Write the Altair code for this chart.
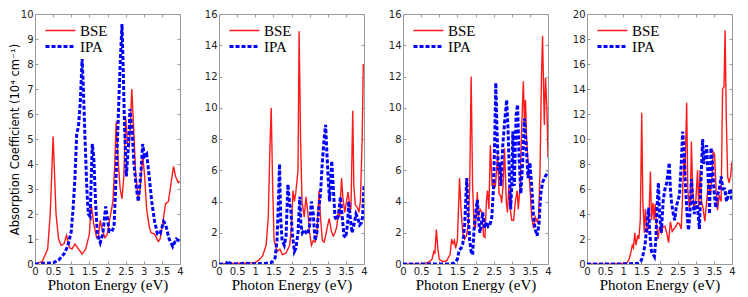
import altair as alt
import pandas as pd

# ---------------- data ----------------
x_ticks = [0, 0.5, 1, 1.5, 2, 2.5, 3, 3.5, 4]
series_names = ["BSE", "IPA"]

# Panel 1
p1_bse_x = [0, 0.2, 0.35, 0.42, 0.5, 0.58, 0.65, 0.72, 0.8, 0.87, 0.95, 1.02, 1.1, 1.2, 1.3, 1.4, 1.5, 1.55, 1.62, 1.7, 1.75, 1.8, 1.85, 1.93, 2.0, 2.05, 2.15, 2.2, 2.24, 2.3, 2.35, 2.4, 2.45, 2.5, 2.55, 2.6, 2.63, 2.67, 2.72, 2.78, 2.85, 2.9, 2.97, 3.02, 3.08, 3.15, 3.2, 3.3, 3.4, 3.45, 3.52, 3.6, 3.68, 3.75, 3.82, 3.88, 3.95, 4.0]
p1_bse_y = [0, 0.1, 0.6, 2.0, 5.1, 2.0, 1.0, 0.75, 0.8, 1.15, 0.65, 0.6, 0.8, 0.6, 0.4, 0.6, 1.2, 2.4, 1.6, 1.05, 1.1, 1.75, 1.4, 1.05, 1.2, 1.7, 2.5, 4.0, 5.7, 4.0, 3.0, 2.6, 3.5, 5.9, 4.8, 4.7, 5.5, 7.0, 5.5, 3.5, 2.65, 3.0, 4.35, 3.6, 2.2, 1.5, 1.25, 1.2, 0.9, 1.0, 1.6, 2.4, 2.5, 3.2, 3.9, 3.5, 3.25, 3.3]
p1_ipa_x = [0, 0.5, 0.65, 0.8, 0.9, 1.0, 1.05, 1.1, 1.15, 1.2, 1.25, 1.3, 1.33, 1.38, 1.43, 1.47, 1.52, 1.58, 1.62, 1.67, 1.72, 1.8, 1.87, 1.95, 2.0, 2.05, 2.12, 2.18, 2.25, 2.3, 2.35, 2.4, 2.43, 2.47, 2.52, 2.58, 2.62, 2.68, 2.73, 2.8, 2.85, 2.92, 2.97, 3.02, 3.08, 3.15, 3.22, 3.3, 3.38, 3.45, 3.55, 3.6, 3.7, 3.8, 3.9, 4.0]
p1_ipa_y = [0, 0.05, 0.15, 0.4, 0.7, 1.3, 2.2, 3.4, 5.2, 5.5, 6.5, 8.2, 7.2, 5.0, 3.0, 2.0, 1.9, 4.8, 4.3, 2.5, 1.2, 0.85, 1.2, 2.3, 1.8, 1.3, 1.3, 1.5, 4.0, 6.0, 8.0, 9.6, 8.0, 5.5, 3.5, 4.8, 6.2, 5.3, 4.0, 3.0, 2.5, 3.6, 4.8, 4.3, 4.4, 3.5, 2.5, 1.7, 1.2, 1.2, 1.7, 1.6, 1.0, 0.7, 1.0, 0.9]

# Panel 2
p2_bse_x = [0, 0.5, 0.8, 1.0, 1.1, 1.2, 1.3, 1.36, 1.4, 1.44, 1.48, 1.52, 1.6, 1.68, 1.75, 1.85, 1.95, 2.0, 2.04, 2.08, 2.12, 2.18, 2.21, 2.25, 2.29, 2.35, 2.4, 2.45, 2.5, 2.55, 2.6, 2.65, 2.7, 2.76, 2.8, 2.85, 2.9, 2.95, 3.0, 3.04, 3.1, 3.15, 3.2, 3.25, 3.3, 3.33, 3.38, 3.42, 3.47, 3.53, 3.56, 3.6, 3.64, 3.69, 3.72, 3.76, 3.82, 3.86, 3.9, 3.95, 3.98]
p2_bse_y = [0, 0.05, 0.05, 0.1, 0.25, 0.5, 1.2, 3.0, 7.0, 10.0, 5.0, 1.5, 0.8, 0.95, 0.6, 0.7, 1.2, 2.4, 4.7, 4.0, 4.6, 6.0, 14.9, 8.0, 4.0, 3.0, 4.3, 3.3, 2.0, 1.2, 1.5, 1.4, 1.8, 4.7, 3.0, 1.5, 1.4, 1.9, 2.5, 2.9, 2.1, 1.8, 2.0, 2.4, 3.5, 3.0, 5.5, 4.2, 3.3, 4.2, 4.6, 3.8, 3.5, 9.8, 5.0, 3.8, 3.6, 3.3, 4.0, 8.0, 12.8]
p2_ipa_x = [0, 0.2, 0.25, 0.3, 0.5, 0.7, 1.0, 1.3, 1.45, 1.55, 1.6, 1.64, 1.67, 1.7, 1.74, 1.8, 1.85, 1.9, 1.95, 1.98, 2.02, 2.08, 2.12, 2.18, 2.23, 2.26, 2.3, 2.35, 2.4, 2.45, 2.5, 2.55, 2.6, 2.65, 2.7, 2.75, 2.8, 2.85, 2.9, 2.94, 3.0, 3.05, 3.11, 3.15, 3.2, 3.25, 3.3, 3.35, 3.4, 3.45, 3.5, 3.55, 3.58, 3.62, 3.67, 3.72, 3.78, 3.82, 3.88, 3.92, 3.96, 4.0]
p2_ipa_y = [0, 0.0, 0.2, 0.05, 0.0, 0.05, 0.0, 0.05, 0.1, 0.4, 1.5, 4.0, 6.4, 3.0, 1.5, 1.2, 1.8, 5.1, 3.8, 3.6, 2.0, 0.8, 1.0, 2.0, 4.3, 2.5, 2.0, 2.2, 2.0, 1.9, 2.5, 4.0, 3.2, 1.5, 2.0, 3.5, 4.5, 6.5, 8.0, 8.9, 6.0, 4.0, 6.6, 5.0, 3.0, 2.8, 3.2, 4.3, 3.0, 1.8, 1.7, 2.7, 4.0, 3.0, 2.0, 2.5, 3.2, 3.0, 2.5, 2.6, 3.0, 5.0]

# Panel 3
p3_bse_x = [0, 0.5, 0.7, 0.8, 0.85, 0.88, 0.92, 0.96, 1.0, 1.1, 1.2, 1.3, 1.34, 1.38, 1.42, 1.45, 1.5, 1.53, 1.56, 1.6, 1.65, 1.7, 1.75, 1.8, 1.84, 1.88, 1.92, 1.96, 2.0, 2.05, 2.08, 2.13, 2.18, 2.22, 2.26, 2.3, 2.33, 2.37, 2.41, 2.46, 2.5, 2.55, 2.61, 2.65, 2.7, 2.72, 2.76, 2.8, 2.85, 2.88, 2.92, 2.96, 3.0, 3.05, 3.1, 3.15, 3.18, 3.23, 3.27, 3.32, 3.35, 3.38, 3.41, 3.45, 3.5, 3.55, 3.6, 3.65, 3.7, 3.74, 3.78, 3.82, 3.85, 3.88, 3.9, 3.93, 3.97, 4.0]
p3_bse_y = [0, 0.0, 0.1, 0.3, 0.8, 0.7, 2.2, 1.0, 0.3, 0.15, 0.2, 0.6, 1.6, 1.3, 1.5, 1.0, 1.5, 3.5, 5.5, 3.5, 2.0, 1.6, 1.8, 2.5, 5.0, 12.0, 5.0, 2.5, 2.3, 4.6, 3.0, 3.5, 3.3, 1.8, 1.7, 4.0, 4.7, 3.5, 7.6, 5.0, 5.2, 5.0, 7.0, 4.5, 4.3, 3.9, 5.0, 7.4, 4.0, 3.3, 4.9, 3.5, 2.8, 2.8, 4.0, 4.7, 3.5, 5.0, 8.5, 11.7, 9.0, 10.5, 8.0, 6.5, 5.0, 3.0, 2.3, 3.0, 2.7, 3.0, 6.0, 12.0, 14.6, 11.0, 8.9, 11.9, 10.0, 6.8]
p3_ipa_x = [0, 0.5, 1.0, 1.3, 1.4, 1.5, 1.55, 1.6, 1.65, 1.7, 1.73, 1.76, 1.8, 1.84, 1.88, 1.92, 1.96, 2.0, 2.05, 2.08, 2.12, 2.16, 2.2, 2.25, 2.3, 2.35, 2.4, 2.45, 2.5, 2.53, 2.56, 2.6, 2.63, 2.67, 2.7, 2.75, 2.8, 2.86, 2.9, 2.93, 2.97, 3.0, 3.03, 3.07, 3.12, 3.16, 3.2, 3.25, 3.3, 3.35, 3.4, 3.45, 3.5, 3.55, 3.6, 3.65, 3.7, 3.75, 3.8, 3.85, 3.9, 3.95, 4.0]
p3_ipa_y = [0, 0, 0, 0.0, 0.05, 0.3, 0.9, 1.0, 1.3, 2.5, 4.0, 5.5, 3.0, 1.5, 0.8, 0.6, 2.2, 3.2, 4.1, 3.0, 2.0, 2.5, 3.3, 2.3, 2.7, 2.4, 2.5, 3.0, 5.0, 8.0, 11.6, 8.0, 6.0, 6.5, 5.0, 7.5, 9.0, 10.5, 8.5, 6.0, 3.5, 5.0, 8.5, 5.0, 9.5, 10.2, 7.0, 4.5, 6.5, 9.3, 7.5, 5.5, 6.5, 5.0, 3.0, 2.2, 1.8, 2.5, 4.5, 5.2, 5.5, 5.7, 5.9]

# Panel 4
p4_bse_x = [0, 0.5, 1.0, 1.1, 1.15, 1.2, 1.25, 1.28, 1.32, 1.35, 1.4, 1.43, 1.47, 1.51, 1.54, 1.58, 1.61, 1.66, 1.7, 1.75, 1.78, 1.82, 1.85, 1.88, 1.92, 1.96, 2.0, 2.05, 2.1, 2.15, 2.2, 2.25, 2.3, 2.35, 2.4, 2.45, 2.5, 2.55, 2.6, 2.63, 2.67, 2.7, 2.75, 2.78, 2.82, 2.85, 2.88, 2.92, 2.95, 3.0, 3.05, 3.08, 3.12, 3.16, 3.2, 3.25, 3.3, 3.35, 3.4, 3.45, 3.48, 3.52, 3.56, 3.6, 3.65, 3.7, 3.74, 3.78, 3.81, 3.84, 3.88, 3.92, 3.96, 4.0]
p4_bse_y = [0, 0, 0.05, 0.1, 0.3, 0.8, 1.5, 1.3, 2.5, 1.5, 2.3, 2.0, 3.5, 12.1, 5.0, 2.5, 4.4, 2.5, 3.0, 7.4, 3.5, 4.9, 3.5, 4.8, 3.0, 2.0, 3.0, 2.5, 3.0, 3.0, 2.5, 1.7, 3.4, 2.6, 2.8, 3.0, 3.3, 3.2, 2.8, 5.0, 8.5, 7.0, 12.9, 6.0, 4.5, 5.0, 9.8, 5.5, 4.5, 5.0, 7.5, 4.5, 7.5, 5.0, 4.5, 3.4, 5.0, 6.5, 5.5, 7.0, 9.0, 8.8, 6.0, 4.3, 5.5, 5.0, 14.0, 14.2, 18.7, 12.0, 7.0, 6.5, 7.0, 8.2]
p4_ipa_x = [0, 1.0, 1.4, 1.48, 1.53, 1.6, 1.65, 1.7, 1.73, 1.78, 1.86, 1.9, 1.93, 1.97, 2.0, 2.05, 2.1, 2.15, 2.2, 2.27, 2.3, 2.33, 2.38, 2.42, 2.46, 2.5, 2.55, 2.6, 2.64, 2.68, 2.72, 2.76, 2.8, 2.84, 2.88, 2.92, 2.96, 3.0, 3.05, 3.1, 3.15, 3.19, 3.22, 3.26, 3.3, 3.34, 3.38, 3.42, 3.45, 3.5, 3.55, 3.6, 3.65, 3.7, 3.75, 3.8, 3.85, 3.9, 3.95, 4.0]
p4_ipa_y = [0, 0, 0.05, 0.2, 0.5, 1.5, 3.0, 4.5, 2.5, 1.0, 0.6, 2.0, 4.5, 6.5, 4.0, 2.5, 5.0, 6.0, 6.5, 8.1, 6.0, 5.0, 4.0, 3.5, 4.5, 5.0, 5.5, 8.0, 10.6, 9.0, 6.0, 4.0, 2.7, 4.0, 6.8, 5.0, 4.0, 5.0, 4.5, 2.8, 7.0, 10.0, 8.0, 8.5, 9.5, 7.0, 4.0, 9.3, 8.5, 6.0, 4.5, 5.5, 6.0, 7.0, 6.0, 6.0, 5.0, 5.5, 6.0, 5.0]

panels = [
    (p1_bse_x, p1_bse_y, p1_ipa_x, p1_ipa_y, 10, list(range(0, 11, 1))),
    (p2_bse_x, p2_bse_y, p2_ipa_x, p2_ipa_y, 16, list(range(0, 17, 2))),
    (p3_bse_x, p3_bse_y, p3_ipa_x, p3_ipa_y, 16, list(range(0, 17, 2))),
    (p4_bse_x, p4_bse_y, p4_ipa_x, p4_ipa_y, 20, list(range(0, 21, 2))),
]

Y_TITLE = "Absorption Coefficient (10\u2074 cm\u207b\u00b9)"
FRAME = "#9a9a9a"


def make_panel(bx, by, ix, iy, ymax, yticks, first):
    df = pd.DataFrame({
        "E": bx + ix,
        "A": by + iy,
        "series": ["BSE"] * len(bx) + ["IPA"] * len(ix),
    })
    xscale = alt.Scale(domain=[0, 4], nice=False, zero=False)
    yscale = alt.Scale(domain=[0, ymax], nice=False)
    leg = alt.Legend(
        title=None, orient="none", legendX=9, legendY=10,
        symbolType="stroke", symbolSize=900, symbolStrokeWidth=2.5,
        labelFont="Liberation Serif", labelFontSize=15, labelColor="black",
        clipHeight=13, rowPadding=0, padding=0, labelOffset=3,
    )
    xaxis = alt.Axis(
        values=x_ticks, format="~g", title="Photon Energy (eV)",
        orient="bottom", offset=-3, tickSize=3, domain=False, grid=False,
        labelPadding=2, labelFlush=False, labelOverlap=False,
        titleFont="Liberation Serif", titleFontSize=15, titlePadding=1,
    )
    yaxis_kwargs = dict(
        values=yticks, orient="left", offset=-3, tickSize=3, domain=False,
        grid=False, labelPadding=2, labelOverlap=False,
    )
    if first:
        yaxis = alt.Axis(title=Y_TITLE, titleFont="DejaVu Sans",
                         titleFontSize=11.5, titlePadding=0, **yaxis_kwargs)
    else:
        yaxis = alt.Axis(title=None, **yaxis_kwargs)

    lines = alt.Chart(df).mark_line(clip=True).encode(
        x=alt.X("E:Q", scale=xscale, axis=xaxis),
        y=alt.Y("A:Q", scale=yscale, axis=yaxis),
        color=alt.Color("series:N", scale=alt.Scale(domain=series_names, range=["#ff1a1a", "#0000ff"]), legend=leg),
        strokeDash=alt.StrokeDash("series:N", scale=alt.Scale(domain=series_names, range=[[1, 0], [4, 2]]), legend=leg),
        strokeWidth=alt.StrokeWidth("series:N", scale=alt.Scale(domain=series_names, range=[1.4, 3.0]), legend=None),
    )
    mirror = alt.Chart(df).mark_point(opacity=0).encode(
        x=alt.X("E:Q", scale=xscale, axis=alt.Axis(
            values=x_ticks, orient="top", labels=False, title=None,
            offset=-3, tickSize=3, domain=False, grid=False)),
        y=alt.Y("A:Q", scale=yscale, axis=alt.Axis(
            values=yticks, orient="right", labels=False, title=None,
            offset=-3, tickSize=3, domain=False, grid=False)),
    )
    return alt.layer(lines, mirror).resolve_axis(x="independent", y="independent").properties(width=145, height=250)


charts = [make_panel(*p, first=(i == 0)) for i, p in enumerate(panels)]

chart = alt.hconcat(*charts, spacing=39, bounds="flush").resolve_scale(
    color="independent", strokeDash="independent", strokeWidth="independent"
).resolve_legend(color="independent", strokeDash="independent").properties(
    padding={"left": 0, "top": 0, "right": 0, "bottom": 0}
).configure_view(
    stroke=FRAME, strokeWidth=1
).configure_axis(
    labelFont="DejaVu Sans", labelFontSize=10, labelColor="#222222",
    tickColor=FRAME, titleColor="black", titleFontWeight="normal",
)

chart.save("out.html", embed_options={"renderer": "svg", "actions": False})
